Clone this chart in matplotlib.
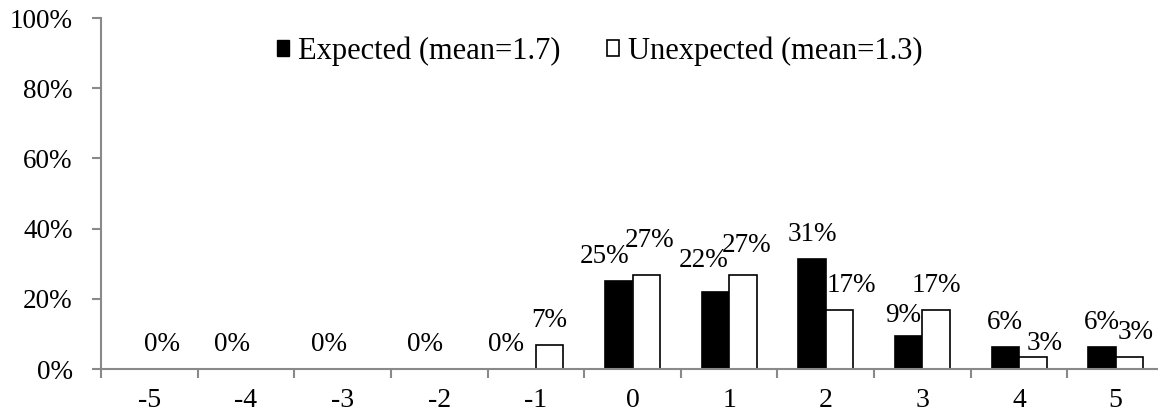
import matplotlib
matplotlib.use('Agg')
import matplotlib.pyplot as plt
from matplotlib.patches import Rectangle
from matplotlib.ticker import PercentFormatter, FixedLocator

categories = ['-5', '-4', '-3', '-2', '-1', '0', '1', '2', '3', '4', '5']
expected = [0, 0, 0, 0, 0, 25.0, 21.9, 31.3, 9.4, 6.3, 6.3]
unexpected = [0, 0, 0, 0, 6.7, 26.7, 26.7, 16.7, 16.7, 3.3, 3.3]
legend_labels = ['Expected (mean=1.7)', 'Unexpected (mean=1.3)']

# label nudges in pixels (dx, dy) so the texts sit like the original
exp_dx = [26, 0, 0, 0, -16, -14, -12, 0, -6, 0, 0]
exp_dy = [0, 0, 0, 0, 0, 0, 7, 0, -4, 0, 0]
unexp_dx = [0, 0, 0, 0, 0, 3, 4, 12, 0, 12, 6]
unexp_dy = [0, 0, 0, 0, 0, 10, 5, 0, 0, -11, 0]

plt.rcParams['font.family'] = ['Liberation Serif', 'DejaVu Serif']
FS = 19.5
AXC = '#898989'

fig = plt.figure(figsize=(11.58, 4.19), dpi=100)
W, H = 1158, 419
ax = fig.add_axes([101 / W, (H - 369) / H, (1164 - 101) / W, (369 - 18) / H])

x = list(range(len(categories)))
bw = 0.285
xe = [i - bw / 2 for i in x]
xu = [i + bw / 2 for i in x]
ax.bar(xe, [v / 100 for v in expected], bw, color='black', edgecolor='black', linewidth=1.2)
ax.bar(xu, [v / 100 for v in unexpected], bw, color='white', edgecolor='black', linewidth=1.2)

px = 0.72  # points per pixel
for i in x:
    ax.annotate(f'{round(expected[i])}%', (xe[i], expected[i] / 100),
                xytext=(exp_dx[i] * px, (18 + exp_dy[i]) * px), textcoords='offset points',
                ha='center', va='baseline', fontsize=FS)
    if unexpected[i] > 0:
        ax.annotate(f'{round(unexpected[i])}%', (xu[i], unexpected[i] / 100),
                    xytext=(unexp_dx[i] * px, (18 + unexp_dy[i]) * px), textcoords='offset points',
                    ha='center', va='baseline', fontsize=FS)

ax.set_xlim(-0.5, 10.5)
ax.set_ylim(0, 1)
ax.set_yticks([0, 0.2, 0.4, 0.6, 0.8, 1.0])
ax.yaxis.set_major_formatter(PercentFormatter(1.0, decimals=0))
ax.set_xticks(x)
ax.set_xticklabels(categories)
ax.xaxis.set_minor_locator(FixedLocator([i - 0.5 for i in range(len(categories) + 1)]))

for s in ['top', 'right']:
    ax.spines[s].set_visible(False)
for s in ['left', 'bottom']:
    ax.spines[s].set_color(AXC)
    ax.spines[s].set_linewidth(1.5)

ax.tick_params(axis='y', which='major', direction='out', length=6.5, width=1.5,
               color=AXC, labelsize=FS, pad=14)
ax.tick_params(axis='x', which='major', length=0, labelsize=FS + 0.5, pad=14)
ax.tick_params(axis='x', which='minor', direction='out', length=6.5, width=1.5, color=AXC)

handles = [Rectangle((0, 0), 1, 1, facecolor='black', edgecolor='black'),
           Rectangle((0, 0), 1, 1, facecolor='white', edgecolor='black', linewidth=1.2)]
fig.legend(handles, legend_labels, loc='center left', bbox_to_anchor=(277 / W, 1 - 51 / H),
           ncol=2, frameon=False, fontsize=22, handlelength=0.4, handleheight=0.4,
           handletextpad=0.3, columnspacing=1.5, borderpad=0, borderaxespad=0)

fig.savefig('out.png', dpi=100)
